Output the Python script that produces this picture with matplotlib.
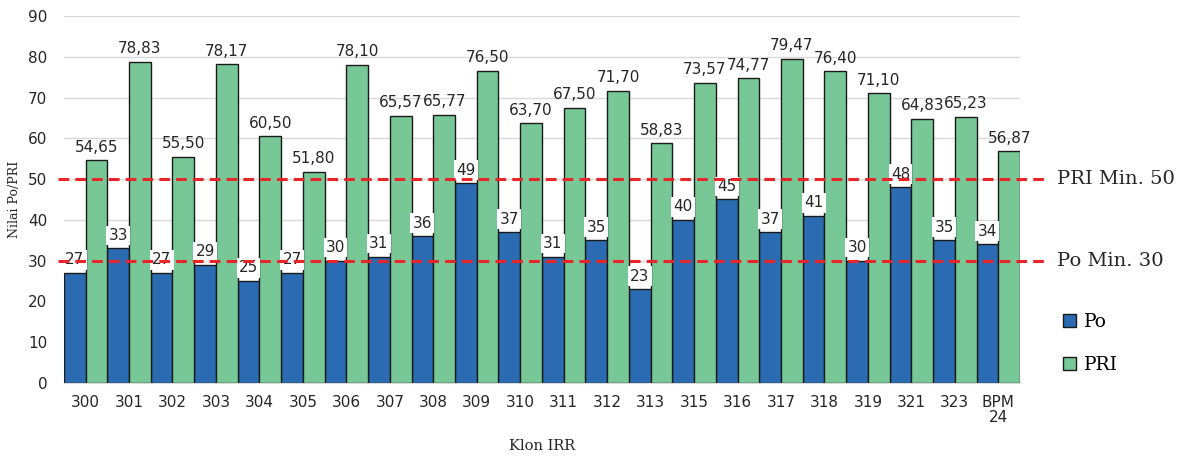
import matplotlib.pyplot as plt
import numpy as np

klon = ["300", "301", "302", "303", "304", "305", "306", "307", "308", "309", "310",
        "311", "312", "313", "315", "316", "317", "318", "319", "321", "323", "BPM\n24"]
po = [27, 33, 27, 29, 25, 27, 30, 31, 36, 49, 37, 31, 35, 23, 40, 45, 37, 41, 30, 48, 35, 34]
pri = [54.65, 78.83, 55.50, 78.17, 60.50, 51.80, 78.10, 65.57, 65.77, 76.50, 63.70,
       67.50, 71.70, 58.83, 73.57, 74.77, 79.47, 76.40, 71.10, 64.83, 65.23, 56.87]
batas = {"PRI Min. 50": 50, "Po Min. 30": 30}

col_po = "#2B6BB2"
col_pri = "#78C897"
serif = "DejaVu Serif"
plt.rcParams["font.family"] = "DejaVu Sans"

fig = plt.figure(figsize=(11.82, 4.57), dpi=100)
ax = fig.add_axes([0.054, 0.162, 0.809, 0.803])

x = np.arange(len(klon))
w = 0.5
b1 = ax.bar(x - w / 2, po, w, color=col_po, edgecolor="#1a1a1a", linewidth=1, label="Po", zorder=2)
b2 = ax.bar(x + w / 2, pri, w, color=col_pri, edgecolor="#1a1a1a", linewidth=1, label="PRI", zorder=2)

for r, v in zip(b1, po):
    ax.annotate(str(v), (r.get_x() + r.get_width() / 2, v), xytext=(0, 4),
                textcoords="offset points", ha="center", va="bottom", fontsize=11,
                color="#262626", zorder=3,
                bbox=dict(boxstyle="square,pad=0.15", fc="white", ec="none"))
for r, v in zip(b2, pri):
    ax.annotate(f"{v:.2f}".replace(".", ","), (r.get_x() + r.get_width() / 2, v),
                xytext=(0, 4), textcoords="offset points", ha="center", va="bottom",
                fontsize=11, color="#262626", zorder=3)

for lbl, val in batas.items():
    ax.plot([-0.006, 1.028], [val, val], transform=ax.get_yaxis_transform(),
            color="#E8262A", lw=2.2, linestyle=(0, (3.5, 2)), clip_on=False, zorder=4)
    ax.text(1.039, val, lbl, transform=ax.get_yaxis_transform(), va="center",
            ha="left", fontsize=14, family=serif, color="#262626")

ax.set_xlim(-0.5, len(klon) - 0.5)
ax.set_ylim(0, 90)
ax.set_yticks(range(0, 91, 10))
ax.set_xticks(x)
ax.set_xticklabels(klon, fontsize=11, color="#262626", linespacing=1.0)
ax.tick_params(axis="y", length=0, pad=12, labelsize=11, labelcolor="#262626")
ax.tick_params(axis="x", length=0, pad=9)
ax.grid(axis="y", color="#D9D9D9", lw=1, zorder=0)
ax.set_axisbelow(True)
for s in ["top", "right", "left"]:
    ax.spines[s].set_visible(False)
ax.spines["bottom"].set_color("#D9D9D9")

ax.set_ylabel("Nilai Po/PRI", family=serif, fontsize=9, color="#262626", labelpad=5)
ax.set_xlabel("Klon IRR", family=serif, fontsize=10.5, color="#262626", labelpad=10)

leg = ax.legend(loc="upper left", bbox_to_anchor=(0.885, 0.352), bbox_transform=fig.transFigure,
                frameon=False, handlelength=0.7, handleheight=0.7, handletextpad=0.4,
                labelspacing=1.35, prop={"family": serif, "size": 13.5})

fig.savefig("out.png", dpi=100)
